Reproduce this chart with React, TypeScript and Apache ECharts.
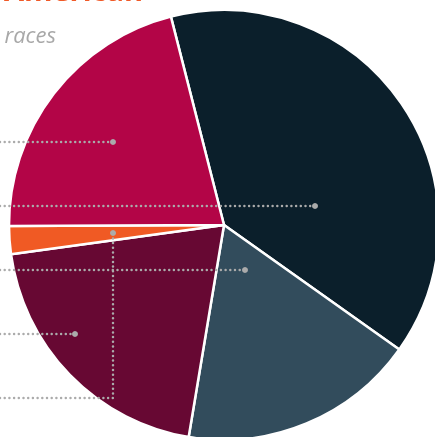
import React, { useEffect, useRef } from "react";
import * as echarts from "echarts";

const categories = ["Group 1", "Group 2", "Group 3", "American", "Two or more races"];
const values = [38.8, 17.8, 20.2, 2.1, 21.1];
const colors = ["#0b1f2b", "#324c5c", "#670833", "#f05a24", "#b30547"];

export default function App() {
  const ref = useRef<HTMLDivElement>(null);
  useEffect(() => {
    if (!ref.current) return;
    const chart = echarts.init(ref.current, null, { renderer: "svg" });
    const dot = { stroke: "#ababab", lineWidth: 2.5, lineDash: [0, 4.7], lineCap: "round", fill: null };
    const leaders: number[][][] = [
      [[0, 142], [113, 142]],
      [[0, 206], [315, 206]],
      [[0, 270], [245, 270]],
      [[0, 334], [75, 334]],
      [[0, 398], [113, 398], [113, 233]],
    ];
    const graphics: any[] = [];
    leaders.forEach((pts) => {
      graphics.push({ type: "polyline", z: 100, shape: { points: pts }, style: dot });
      const e = pts[pts.length - 1];
      graphics.push({ type: "circle", z: 101, shape: { cx: e[0], cy: e[1], r: 3 }, style: { fill: "#ababab" } });
    });
    graphics.push({
      type: "text", z: 100, x: 4, y: 4,
      style: { text: "American", fill: "#f05a28", font: "bold 29px 'Open Sans'", verticalAlign: "bottom", align: "left" },
    });
    graphics.push({
      type: "text", z: 100, x: 56, y: 34,
      style: { text: "two or more races", fill: "#a8a8a8", font: "italic 22px 'Open Sans'", verticalAlign: "middle", align: "right" },
    });
    chart.setOption({
      animation: false,
      series: [
        {
          type: "pie",
          center: [224, 225],
          radius: [0, 215],
          startAngle: 104.3,
          clockwise: true,
          label: { show: false },
          labelLine: { show: false },
          emphasis: { disabled: true },
          itemStyle: { borderColor: "#ffffff", borderWidth: 2.5 },
          data: categories.map((c, i) => ({ name: c, value: values[i], itemStyle: { color: colors[i] } })),
        },
      ],
      graphic: graphics,
    });
    return () => chart.dispose();
  }, []);
  return <div ref={ref} style={{ position: "fixed", left: 0, top: 0, width: 435, height: 437 }} />;
}
